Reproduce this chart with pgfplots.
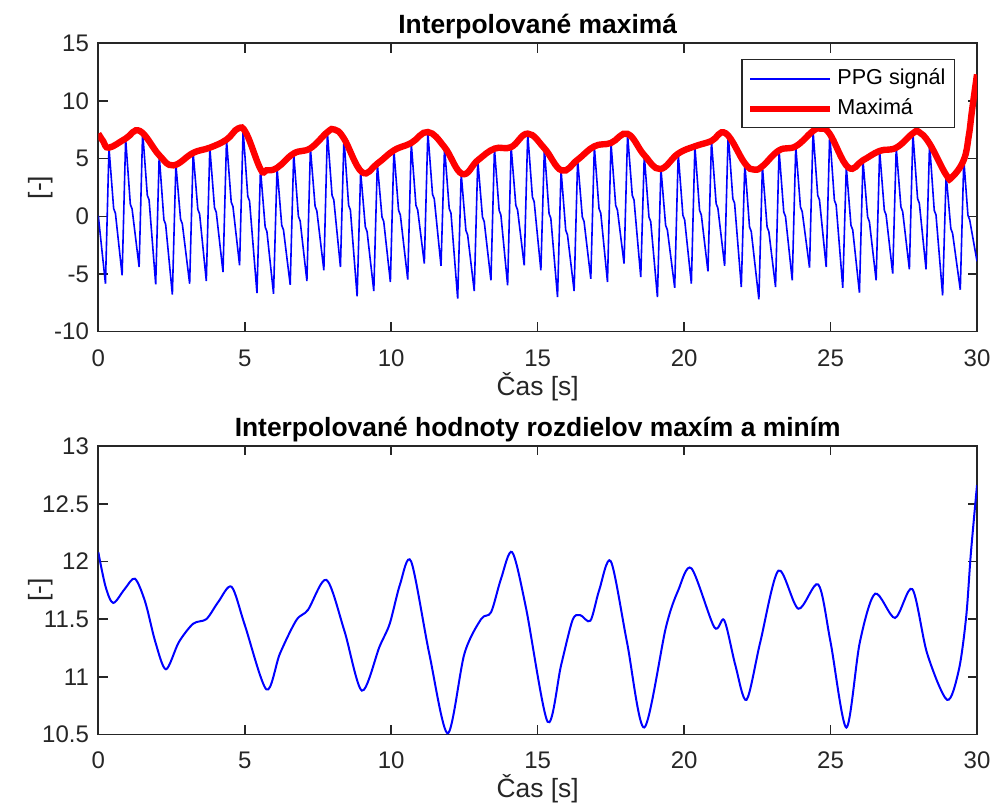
\documentclass[border=0pt]{standalone}
\usepackage{pgfplots}
\pgfplotsset{compat=1.18}
\usepackage{fontspec}
\setmainfont{Liberation Sans}
\definecolor{axgray}{RGB}{38,38,38}
\definecolor{mblue}{RGB}{0,0,255}
\definecolor{mred}{RGB}{255,0,0}
\pgfplotsset{
  mstyle/.style={
    scale only axis, width=439.4pt, height=144.2pt,
    xmin=0, xmax=30, xtick={0,5,10,15,20,25,30},
    tick align=inside, major tick length=4.7pt,
    axis line style={axgray, line width=0.8pt},
    every tick/.style={axgray, line width=0.8pt},
    tick label style={font=\fontsize{12}{14}\selectfont, text=axgray},
    /pgf/number format/assume math mode=true,
    xticklabel style={anchor=base, yshift=-17.2pt},
    yticklabel style={anchor=east, inner sep=0pt, xshift=-4.5pt},
    xlabel style={at={(axis description cs:0.5,-0.22)}, anchor=base, font=\fontsize{13.2}{15}\selectfont, text=axgray},
    ylabel style={at={(axis description cs:-0.066,0.5)}, anchor=center, font=\fontsize{13.2}{15}\selectfont, text=axgray},
    every axis title shift=0pt,
    title style={at={(axis description cs:0.5,1.0333)}, anchor=base, font=\bfseries\fontsize{13.2}{15}\selectfont, text=black},
    xlabel={Čas [s]}, ylabel={[-]},
  }
}
\begin{document}
\begin{tikzpicture}
\path[use as bounding box] (-49.15pt,-37.75pt) rectangle (447.4pt,367.25pt);

\begin{axis}[mstyle, at={(0pt,201.4pt)}, anchor=south west,
  ymin=-10, ymax=15, ytick={-10,-5,0,5,10,15},
  title={Interpolované maximá},
  legend image code/.code={\draw[#1] (0pt,0pt) -- (40pt,0pt);},
  legend cell align=left,
  legend style={at={(axis description cs:0.975,0.9445)}, anchor=north east,
    draw=axgray, line width=0.6pt, fill=white,
    font=\fontsize{10.8}{12}\selectfont,
    inner xsep=2.5pt, inner ysep=2.25pt, row sep=0.5pt,
    nodes={inner xsep=2pt, inner ysep=2pt, text height=8pt, text depth=2.5pt}},
]
\addplot[mblue, line width=0.8pt] coordinates {
(0,0.05) (0.245,-5.84)
(0.365,5.95) (0.525,0.67) (0.585,0.27) (0.814,-5.12)
(0.934,6.74) (1.094,1.04) (1.154,0.64) (1.394,-4.39)
(1.514,7.35) (1.674,1.82) (1.734,1.42) (1.960,-5.9)
(2.080,5.3) (2.240,-0.3) (2.300,-0.7) (2.529,-6.79)
(2.649,4.5) (2.809,-0.25) (2.869,-0.65) (3.119,-5.84)
(3.239,5.5) (3.399,0.6) (3.459,0.2) (3.688,-5.61)
(3.808,5.95) (3.968,0.75) (4.028,0.35) (4.258,-4.83)
(4.378,6.65) (4.538,1.24) (4.598,0.84) (4.824,-4.25)
(4.944,7.5) (5.104,1.73) (5.164,1.33) (5.417,-6.65)
(5.537,4.1) (5.697,-0.92) (5.757,-1.32) (5.983,-6.71)
(6.103,4.2) (6.263,-0.78) (6.323,-1.18) (6.552,-5.93)
(6.672,5.45) (6.832,0.0) (6.892,-0.4) (7.122,-5.61)
(7.242,5.9) (7.402,0.87) (7.462,0.47) (7.701,-4.68)
(7.821,7.3) (7.981,1.82) (8.041,1.42) (8.267,-4.39)
(8.387,6.75) (8.547,0.95) (8.607,0.55) (8.837,-6.94)
(8.957,3.85) (9.117,-0.92) (9.177,-1.32) (9.406,-6.48)
(9.526,4.57) (9.686,-0.06) (9.746,-0.46) (9.972,-5.69)
(10.092,5.72) (10.252,0.52) (10.312,0.12) (10.565,-5.49)
(10.685,6.36) (10.845,0.95) (10.905,0.55) (11.131,-4.10)
(11.251,7.31) (11.411,1.91) (11.471,1.51) (11.701,-4.30)
(11.821,6.0) (11.981,0.67) (12.041,0.27) (12.270,-7.14)
(12.390,3.7) (12.550,-1.21) (12.610,-1.61) (12.836,-6.48)
(12.956,4.86) (13.116,-0.06) (13.176,-0.46) (13.405,-5.55)
(13.525,5.87) (13.685,0.52) (13.745,0.12) (13.975,-5.98)
(14.095,6.0) (14.255,0.95) (14.315,0.55) (14.541,-4.25)
(14.661,7.17) (14.821,1.67) (14.881,1.27) (15.110,-4.68)
(15.230,5.9) (15.390,0.23) (15.450,-0.17) (15.679,-7.0)
(15.799,4.0) (15.959,-1.21) (16.019,-1.61) (16.245,-6.48)
(16.365,4.91) (16.525,-0.06) (16.585,-0.46) (16.815,-5.41)
(16.935,6.07) (17.095,0.67) (17.155,0.27) (17.384,-5.69)
(17.504,6.36) (17.664,0.95) (17.724,0.55) (17.950,-4.10)
(18.070,7.12) (18.230,1.82) (18.290,1.42) (18.520,-5.26)
(18.640,5.3) (18.800,-0.06) (18.860,-0.46) (19.089,-7.0)
(19.209,4.13) (19.369,-0.78) (19.429,-1.18) (19.679,-6.19)
(19.799,5.44) (19.959,0.09) (20.019,-0.31) (20.248,-5.84)
(20.368,6.07) (20.528,0.52) (20.588,0.12) (20.814,-4.77)
(20.934,6.53) (21.094,1.1) (21.154,0.7) (21.384,-4.30)
(21.504,7.17) (21.664,1.53) (21.724,1.13) (21.953,-6.13)
(22.073,4.6) (22.233,-0.92) (22.293,-1.32) (22.553,-7.2)
(22.673,4.34) (22.833,-0.92) (22.893,-1.32) (23.122,-6.13)
(23.242,5.72) (23.402,0.38) (23.462,-0.02) (23.692,-5.55)
(23.812,6.07) (23.972,0.81) (24.032,0.41) (24.282,-4.45)
(24.402,7.4) (24.562,1.82) (24.622,1.42) (24.851,-4.39)
(24.971,7.15) (25.131,1.39) (25.191,0.99) (25.417,-6.19)
(25.537,4.3) (25.697,-0.78) (25.757,-1.18) (25.986,-6.62)
(26.106,4.86) (26.266,-0.06) (26.326,-0.46) (26.556,-5.55)
(26.676,5.67) (26.836,0.52) (26.896,0.12) (27.122,-4.97)
(27.242,5.95) (27.402,0.81) (27.462,0.41) (27.691,-4.60)
(27.811,7.2) (27.971,1.53) (28.031,1.13) (28.260,-4.60)
(28.380,6.3) (28.540,0.52) (28.600,0.12) (28.826,-6.86)
(28.946,3.6) (29.106,-1.07) (29.166,-1.47) (29.429,-6.36)
(29.549,4.9) (29.690,0.09) (29.750,-0.31) (30,-3.9)
};
\addlegendentry{PPG signál}
\addplot[mred, line width=3.2pt, smooth, tension=0.7] coordinates {
(0,7.17) (0.17,6.5) (0.365,5.95) (0.934,6.74) (1.42,7.40) (2.080,5.3)
(2.56,4.42) (3.239,5.5) (3.808,5.95) (4.378,6.65) (4.77,7.61) (5.05,7.2) (5.537,4.1) (5.74,3.99)
(6.103,4.2) (6.672,5.45) (7.242,5.9) (7.821,7.3) (8.07,7.52) (8.387,6.75) (9.0,3.84)
(9.526,4.57) (10.092,5.72) (10.685,6.36) (11.251,7.31) (11.821,6.0) (12.42,3.68)
(12.956,4.86) (13.525,5.87) (14.095,6.0) (14.661,7.17) (15.230,5.9) (15.82,3.98)
(16.365,4.91) (16.935,6.07) (17.504,6.36) (18.070,7.15) (18.640,5.3) (19.18,4.1)
(19.799,5.44) (20.368,6.07) (20.934,6.53) (21.42,7.2) (22.073,4.6) (22.39,4.05) (22.673,4.34)
(23.242,5.72) (23.812,6.07) (24.402,7.4) (24.66,7.6) (24.971,7.15) (25.6,4.25) (26.106,4.86)
(26.676,5.67) (27.242,5.95) (27.811,7.2) (28.02,7.31) (28.380,6.3) (28.946,3.6) (29.15,3.41) (29.549,4.9)
(29.72,7.0) (29.83,9.19) (30,12.3)
};
\addlegendentry{Maximá}
\end{axis}

\begin{axis}[mstyle, at={(0pt,0pt)}, anchor=south west,
  ymin=10.5, ymax=13, ytick={10.5,11,11.5,12,12.5,13},
  title={Interpolované hodnoty rozdielov maxím a miním},
]
\addplot[mblue, line width=1pt, smooth] coordinates {
(0,12.08) (0.25,11.78) (0.51,11.64) (0.9,11.76) (1.25,11.85) (1.6,11.65)
(1.95,11.3) (2.31,11.065) (2.75,11.3) (3.24,11.46) (3.69,11.50) (4.1,11.65)
(4.55,11.78) (5.0,11.45) (5.74,10.89) (6.2,11.2) (6.76,11.49) (7.16,11.58)
(7.79,11.84) (8.4,11.4) (9.0,10.88) (9.6,11.26) (9.95,11.46) (10.3,11.8)
(10.68,12.0) (11.3,11.2) (11.93,10.51) (12.5,11.2) (13.07,11.5) (13.41,11.56)
(13.75,11.85) (14.13,12.08) (14.6,11.6) (15.34,10.61) (15.8,11.1) (16.19,11.49)
(16.45,11.535) (16.8,11.486) (17.1,11.75) (17.50,12.0) (18.05,11.3) (18.64,10.56)
(19.38,11.43) (19.8,11.75) (20.25,11.94) (21.03,11.43) (21.37,11.49) (21.75,11.1)
(22.13,10.8) (22.6,11.3) (23.22,11.92) (23.9,11.59) (24.58,11.80) (25.0,11.3)
(25.54,10.56) (26.0,11.3) (26.52,11.72) (27.2,11.51) (27.79,11.76) (28.3,11.2)
(28.98,10.80) (29.38,11.06) (29.63,11.52) (29.79,12.07) (30.0,12.66)
};
\end{axis}
\end{tikzpicture}
\end{document}
